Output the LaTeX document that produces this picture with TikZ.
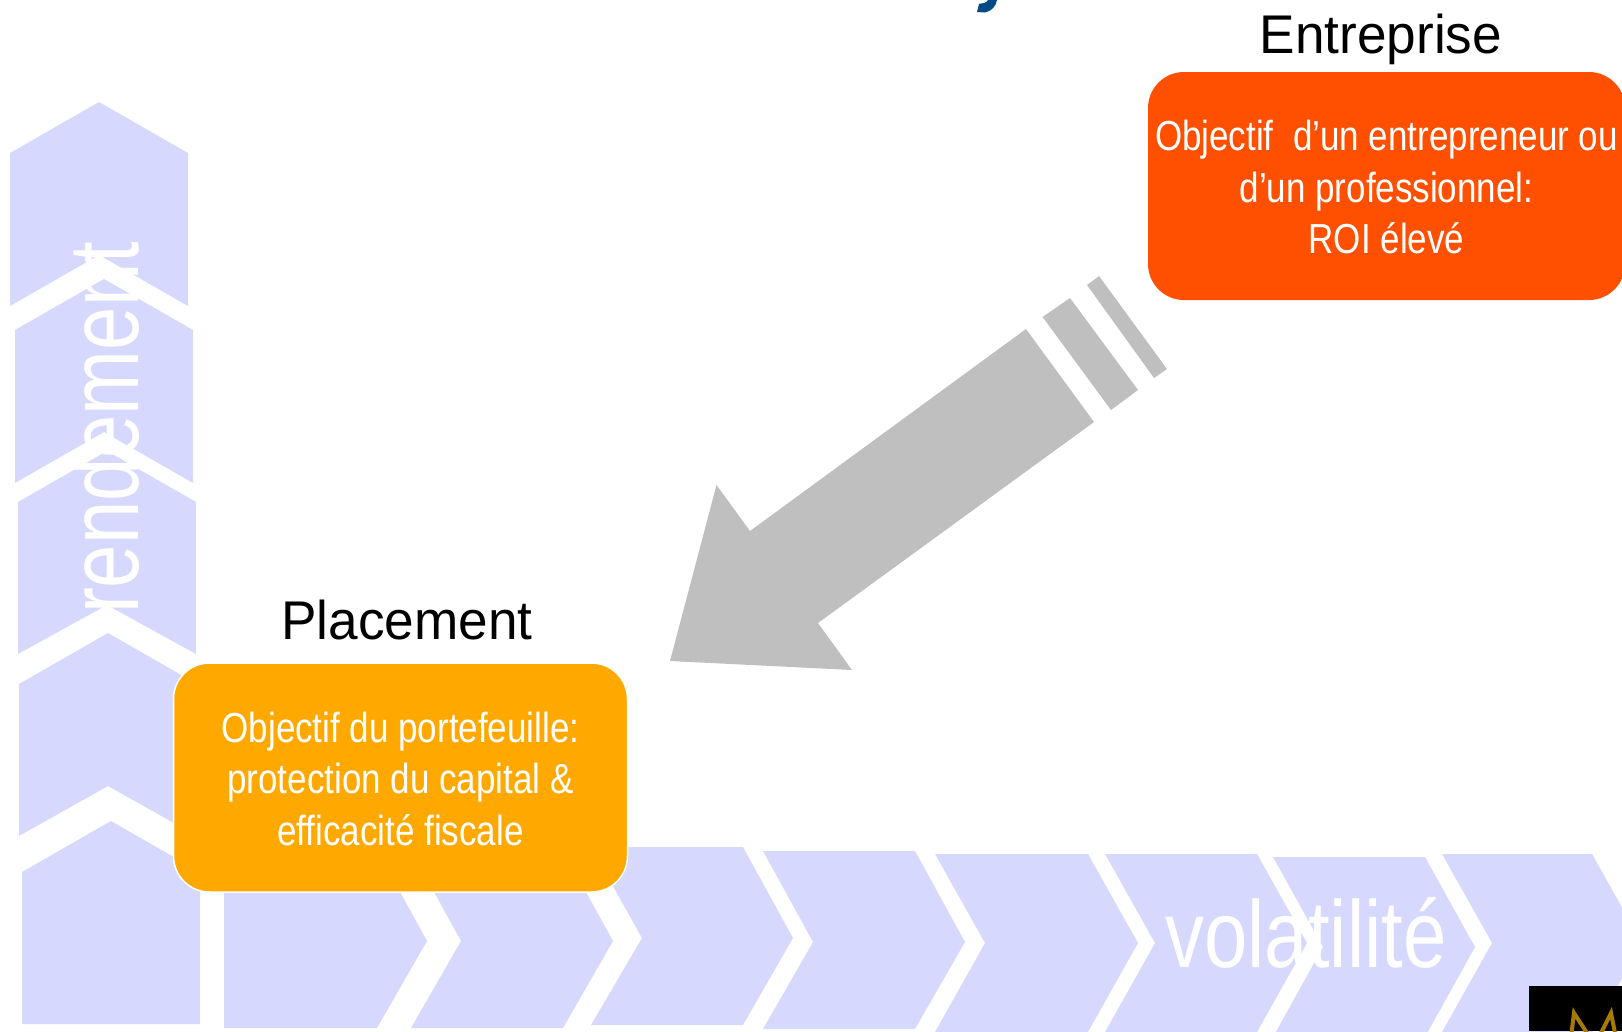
\documentclass[tikz,border=0pt]{standalone}
\usepackage{fontspec}
\usepackage{graphicx}
\setmainfont{Liberation Sans}
\definecolor{chev}{HTML}{D6D8FE}
\definecolor{arrowgray}{HTML}{BFBFBF}
\definecolor{entorange}{HTML}{FF4F00}
\definecolor{placeamber}{HTML}{FFA800}
\definecolor{titleblue}{HTML}{004B87}
\definecolor{logogold}{HTML}{A67C00}
\newcommand{\sqz}[1]{\scalebox{.833}[1]{#1}}
\newcommand{\firststrut}{\rule{0pt}{33pt}}
\tikzset{
  chevron/.style={fill=chev,draw=none},
  grayarrow/.style={fill=arrowgray,draw=none},
  objbox/.style={rectangle,rounded corners=36pt,inner sep=0pt,align=center,text=white,
    font=\fontsize{42}{51.6}\selectfont},
  heading/.style={anchor=base,inner sep=0pt,text=black,font=\fontsize{54.5}{60}\selectfont},
  axislabel/.style={inner sep=0pt,text=white,font=\fontsize{95}{100}\selectfont}
}
\begin{document}
\begin{tikzpicture}[x=1pt,y=-1pt]
\useasboundingbox (0,0) rectangle (1622,1031);
\clip (0,0) rectangle (1622,1031);
% vertical chevrons
\path[chevron] (10,153)--(99,102)--(188,153)--(188,306)--(99,255)--(10,306)--cycle;
\path[chevron] (15,330)--(104,279)--(193,330)--(193,483)--(104,432)--(15,483)--cycle;
\path[chevron] (18,502)--(107,451)--(196,502)--(196,654)--(107,605)--(18,654)--cycle;
\path[chevron] (19,684)--(108,633)--(197,684)--(197,836)--(108,786)--(19,836)--cycle;
\path[chevron] (22,872)--(111,821)--(200,872)--(200,1024)--(22,1024)--cycle;
% horizontal chevrons
\path[chevron] (224,850)--(377,850)--(427,941)--(377,1028)--(224,1028)--cycle;
\path[chevron] (411,850)--(563,850)--(613,941)--(563,1028)--(411,1028)--(461,941)--cycle;
\path[chevron] (591,847)--(743,847)--(793,938)--(743,1025)--(591,1025)--(642,938)--cycle;
\path[chevron] (763,851)--(915,851)--(965,942)--(915,1029)--(763,1029)--(813,942)--cycle;
\path[chevron] (935,854)--(1088,854)--(1138,943)--(1088,1032)--(935,1032)--(985,943)--cycle;
\path[chevron] (1105,854)--(1257,854)--(1307,943)--(1257,1032)--(1105,1032)--(1155,943)--cycle;
\path[chevron] (1273,857)--(1425,857)--(1475,947)--(1425,1037)--(1273,1037)--(1323,947)--cycle;
\path[chevron] (1442,854)--(1592,854)--(1642,943)--(1592,1032)--(1442,1032)--(1492,943)--cycle;
% axis labels
\node[axislabel,anchor=base,rotate=90,font=\fontsize{100}{105}\selectfont] (rendement) at (138,428) {\scalebox{.778}[1]{rendement}};
\node[axislabel,anchor=base] (volatilite) at (1306,967) {\scalebox{.82}[1]{volatilité}};
% block arrow
\path[grayarrow] (670,661)--(716.5,485)--(750,531)--(1026,329)--(1094,422)--(818,623)--(852,670)--cycle;
\path[grayarrow] (1042.6,317)--(1070,298)--(1138,390)--(1111,410)--cycle;
\path[grayarrow] (1087,285)--(1099,276)--(1167,369)--(1154,378)--cycle;
% boxes
\node[objbox,fill=entorange,minimum width=477pt,minimum height=228pt] (entreprise) at (1386.5,186)
  {\firststrut\sqz{Objectif\ \ d’un entrepreneur ou}\\\sqz{d’un professionnel:}\\\sqz{ROI élevé}};
\node[objbox,fill=placeamber,draw=white,line width=1.5pt,minimum width=454pt,minimum height=229pt] (placement) at (400.5,777.5)
  {\firststrut\sqz{Objectif du portefeuille:}\\\sqz{protection du capital \&}\\\sqz{efficacité fiscale}};
\node[heading] (entrepriseTitle) at (1381,53) {\scalebox{.975}[1]{Entreprise}};
\node[heading] (placementTitle) at (407,639) {\scalebox{.975}[1]{Placement}};
% clipped title tail
\fill[titleblue] (997,0) .. controls (996,6) and (992,11) .. (985,12.5) -- (977,12) -- (979,4) .. controls (983,3) and (987,3) .. (988,0) -- cycle;
% clipped logo
\fill[black] (1529,986) rectangle (1622,1031);
\draw[logogold,line width=4pt,line join=miter] (1571.5,1033)--(1574,1013)--(1587,1033);
\draw[logogold,line width=4pt,line join=miter] (1601,1033)--(1611,1013)--(1615,1033);
\end{tikzpicture}
\end{document}
